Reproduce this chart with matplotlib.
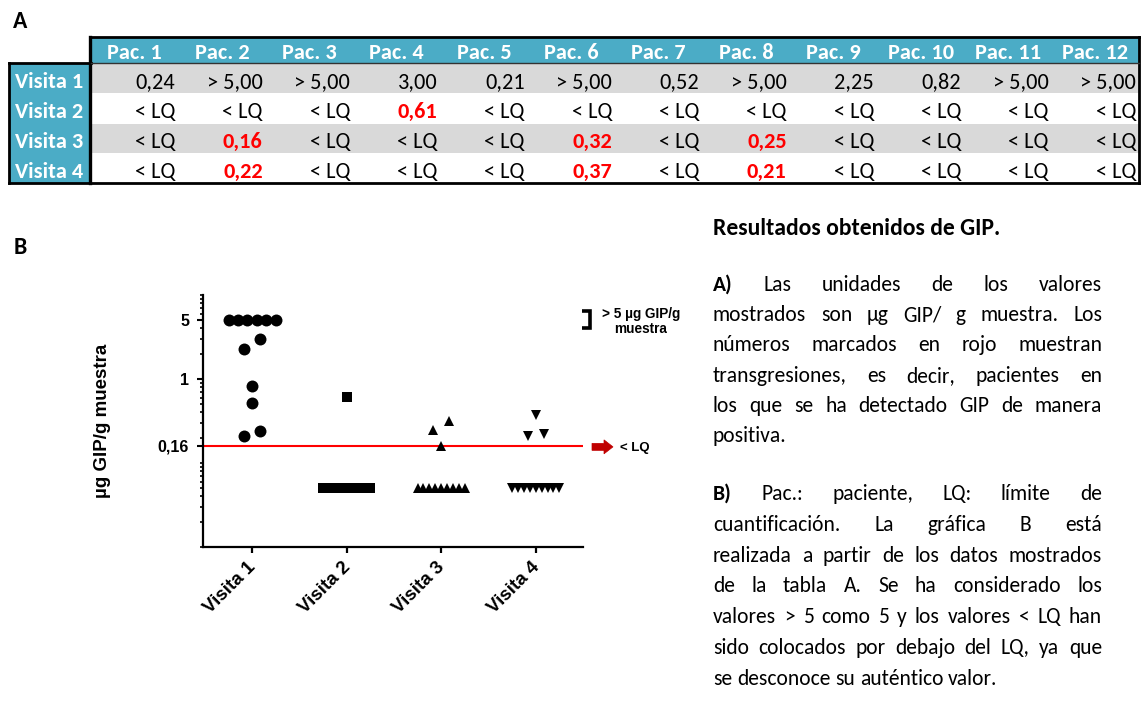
import numpy as np
import matplotlib
matplotlib.use("Agg")
import matplotlib.pyplot as plt
import matplotlib.transforms as mtransforms
from matplotlib import font_manager
from matplotlib.patches import Rectangle, FancyArrow
from matplotlib.ticker import FixedLocator, LogLocator, NullFormatter, FixedFormatter

# ---------------- data ----------------
patients = ["Pac. %d" % i for i in range(1, 13)]
visits = ["Visita 1", "Visita 2", "Visita 3", "Visita 4"]
visita1 = ["0,24", "> 5,00", "> 5,00", "3,00", "0,21", "> 5,00",
           "0,52", "> 5,00", "2,25", "0,82", "> 5,00", "> 5,00"]
visita2 = ["< LQ", "< LQ", "< LQ", "0,61", "< LQ", "< LQ",
           "< LQ", "< LQ", "< LQ", "< LQ", "< LQ", "< LQ"]
visita3 = ["< LQ", "0,16", "< LQ", "< LQ", "< LQ", "0,32",
           "< LQ", "0,25", "< LQ", "< LQ", "< LQ", "< LQ"]
visita4 = ["< LQ", "0,22", "< LQ", "< LQ", "< LQ", "0,37",
           "< LQ", "0,21", "< LQ", "< LQ", "< LQ", "< LQ"]
table_rows = [visita1, visita2, visita3, visita4]

LQ = 0.16            # limit of quantification
CAP = 5.0            # values "> 5" are plotted as 5
BELOW_LQ = 0.05      # where "< LQ" values are placed
ytick_vals = [5, 1, 0.16]
ytick_labels = ["5", "1", "0,16"]
markers = ["o", "s", "^", "v"]
marker_sizes = [8.6, 7.6, 7.4, 7.4]

title_text = "Resultados obtenidos de GIP."
para_a = ["A) Las unidades de los valores",
          "mostrados son µg GIP/ g muestra. Los",
          "números marcados en rojo muestran",
          "transgresiones, es decir, pacientes en",
          "los que se ha detectado GIP de manera",
          "positiva."]
para_b = ["B) Pac.: paciente, LQ: límite de",
          "cuantificación. La gráfica B está",
          "realizada a partir de los datos mostrados",
          "de la tabla A.  Se ha considerado los",
          "valores > 5  como 5 y los valores < LQ han",
          "sido colocados por debajo del LQ, ya que",
          "se desconoce su auténtico valor."]


def to_value(s):
    s = s.strip()
    if s.startswith(">"):
        return CAP
    if s.startswith("<"):
        return BELOW_LQ
    return float(s.replace(",", "."))


def swarm_offsets(vals, step=0.1, half_max=0.25, pair=0.085, close=0.13):
    vals = np.asarray(vals, dtype=float)
    off = np.zeros(len(vals))
    singles = []
    for u in np.unique(vals):
        idx = np.where(vals == u)[0]
        n = len(idx)
        if n > 1:
            half = min(half_max, (n - 1) * step / 2)
            off[idx] = np.linspace(-half, half, n)
        else:
            singles.append(idx[0])
    singles.sort(key=lambda i: vals[i])
    k = 0
    while k < len(singles) - 1:
        a, b = singles[k], singles[k + 1]
        if abs(np.log10(vals[a]) - np.log10(vals[b])) < close:
            off[a], off[b] = -pair, pair
            k += 2
        else:
            k += 1
    return off


def available(name):
    try:
        font_manager.findfont(font_manager.FontProperties(family=name),
                              fallback_to_default=False)
        return True
    except Exception:
        return False


if available("Carlito"):
    TF = ["Carlito", "DejaVu Sans"]
    SZ_LAB, SZ_VAL, SZ_HEAD, SZ_PANEL, SZ_PARA = 16, 16, 16, 17, 15.5
else:
    TF = ["Lato", "DejaVu Sans"]
    SZ_LAB, SZ_VAL, SZ_HEAD, SZ_PANEL, SZ_PARA = 15, 13.8, 14.5, 16, 15.0
CF = ["Liberation Sans", "DejaVu Sans"]

# ---------------- figure ----------------
W, H = 1145, 706
fig = plt.figure(figsize=(W / 100, H / 100), dpi=100)
bg = fig.add_axes([0, 0, 1, 1])
bg.set_xlim(0, W)
bg.set_ylim(H, 0)
bg.axis("off")

TEAL = "#4BACC6"
GREY = "#D9D9D9"

# ---- panel labels ----
bg.text(20, 22, "A", fontsize=SZ_PANEL, fontweight="bold", family=TF, ha="center", va="center")
bg.text(20, 248, "B", fontsize=SZ_PANEL, fontweight="bold", family=TF, ha="center", va="center")

# ---- table ----
x0, x_lab0, x_lab1 = 91, 9, 89
x1 = 1139
col_w = (x1 - x0) / len(patients)
y_head0, y_head1 = 37, 63
row_h = 30
bg.add_patch(Rectangle((x0, y_head0), x1 - x0, y_head1 - y_head0, fc=TEAL, ec="none"))
for i, row in enumerate(table_rows):
    ytop = y_head1 + i * row_h
    fc = GREY if i % 2 == 0 else "white"
    bg.add_patch(Rectangle((x0, ytop + 1), x1 - x0, row_h - 1, fc=fc, ec="none"))
    bg.add_patch(Rectangle((x_lab0, ytop), x_lab1 - x_lab0, row_h, fc=TEAL, ec="none"))
    base = ytop + 25
    bg.text((x_lab0 + x_lab1) / 2, base, visits[i], fontsize=SZ_LAB, fontweight="bold",
            color="white", family=TF, ha="center", va="baseline")
    for j, s in enumerate(row):
        red = (i > 0) and not s.strip().startswith("<")
        bg.text(x0 + (j + 1) * col_w - 3, base, s, fontsize=SZ_VAL,
                fontweight="bold" if red else "normal",
                color="#FF0000" if red else "black", family=TF, ha="right", va="baseline")
for j, p in enumerate(patients):
    bg.text(x0 + (j + 0.5) * col_w, y_head1 - 4, p, fontsize=SZ_HEAD, fontweight="bold",
            color="white", family=TF, ha="center", va="baseline")
y_bot = y_head1 + 4 * row_h
lw_b = 2.0
bg.plot([x0 - 1, x1], [y_head0, y_head0], color="black", lw=lw_b, solid_capstyle="projecting")
bg.plot([x1, x1], [y_head0, y_bot], color="black", lw=lw_b, solid_capstyle="projecting")
bg.plot([x_lab0, x1], [y_bot, y_bot], color="black", lw=lw_b, solid_capstyle="projecting")
bg.plot([x_lab0, x_lab0], [y_head1, y_bot], color="black", lw=lw_b, solid_capstyle="projecting")
bg.plot([x_lab0, x0], [y_head1, y_head1], color="black", lw=lw_b, solid_capstyle="projecting")
bg.plot([x0 - 1, x0 - 1], [y_head0, y_bot], color="black", lw=lw_b + 0.4, solid_capstyle="projecting")
bg.plot([x0, x1], [y_head1, y_head1], color="#333333", lw=1.0)

# ---- scatter chart ----
ax = fig.add_axes([203 / W, 1 - 547 / H, 380 / W, 252 / H])
ax.set_facecolor("none")
ax.set_yscale("log")
ax.set_ylim(0.01, 10)
ax.set_xlim(0.48, 4.5)
for i, row in enumerate(table_rows):
    vals = np.array([to_value(s) for s in row])
    off = swarm_offsets(vals)
    ax.plot(i + 1 + off, vals, ls="none", marker=markers[i], ms=marker_sizes[i],
            color="black", mec="black", mew=0, clip_on=False, zorder=3)
ax.axhline(LQ, color="#FF0000", lw=1.5, zorder=2)

for sp in ["top", "right"]:
    ax.spines[sp].set_visible(False)
for sp in ["left", "bottom"]:
    ax.spines[sp].set_linewidth(1.6)
ax.yaxis.set_major_locator(FixedLocator(ytick_vals))
ax.yaxis.set_major_formatter(FixedFormatter(ytick_labels))
ax.yaxis.set_minor_locator(LogLocator(base=10, subs=np.arange(1, 10), numticks=20))
ax.yaxis.set_minor_formatter(NullFormatter())
ax.tick_params(axis="y", which="major", length=4, width=1.5, pad=6)
ax.tick_params(axis="y", which="minor", length=2.4, width=1.2)
ax.set_xticks(range(1, len(visits) + 1))
ax.set_xticklabels(visits, rotation=45, ha="right", rotation_mode="anchor")
ax.tick_params(axis="x", length=4.5, width=1.6, pad=4)
for lab in ax.get_yticklabels():
    lab.set_fontweight("bold"); lab.set_fontsize(11.5); lab.set_family(CF)
shift = mtransforms.ScaledTranslation(-5 / 100, 0, fig.dpi_scale_trans)
for lab in ax.get_xticklabels():
    lab.set_fontweight("bold"); lab.set_fontsize(13.5); lab.set_family(CF)
    lab.set_transform(lab.get_transform() + shift)
ax.set_ylabel("µg GIP/g muestra", fontsize=13.5, fontweight="bold", family=CF, labelpad=34)

# LQ arrow + label (positioned at the LQ level)
y_lq = H - ax.transData.transform((1, LQ))[1]
bg.add_patch(FancyArrow(592, y_lq + 1, 12, 0, width=7, head_width=14, head_length=9,
                        length_includes_head=False, fc="#C00000", ec="#C00000", lw=0.5))
bg.text(620, y_lq + 2, "< LQ", fontsize=9.5, fontweight="bold", family=CF, ha="left", va="center")

# legend bracket for > 5
bg.plot([582, 590, 590, 582], [311, 311, 328, 328], color="black", lw=2.6,
        solid_joinstyle="miter", solid_capstyle="butt")
bg.text(641, 314, "> 5 µg GIP/g", fontsize=9.8, fontweight="bold", family=CF, ha="center", va="center")
bg.text(641, 329, "muestra", fontsize=9.8, fontweight="bold", family=CF, ha="center", va="center")

# ---- right-hand justified text ----
renderer = fig.canvas.get_renderer()
LEFT, RIGHT = 713, 1102


def text_width(s, size, weight):
    t = bg.text(0, 0, s, fontsize=size, fontweight=weight, family=TF)
    w = t.get_window_extent(renderer).width
    t.remove()
    return w


size = SZ_PARA
all_lines = para_a[:-1] + para_b[:-1]


def min_width(line, sz):
    words = line.split()
    sp = text_width("a a", sz, "normal") - text_width("aa", sz, "normal")
    return sum(text_width(w, sz, "normal") for w in words) + 0.3 * sp * (len(words) - 1)


while max(min_width(l, size) for l in all_lines) > RIGHT - LEFT:
    size -= 0.1

# title scaled to its width in the original (about 289 px)
tsize = size
while text_width(title_text, tsize, "bold") < 287:
    tsize += 0.1
while text_width(title_text, tsize, "bold") > 291:
    tsize -= 0.1


def put_line(line, y, justify, bold_first):
    words = line.split()
    weights = ["bold" if (bold_first and k == 0) else "normal" for k in range(len(words))]
    widths = [text_width(w, size, wt) for w, wt in zip(words, weights)]
    if justify and len(words) > 1:
        gap = (RIGHT - LEFT - sum(widths)) / (len(words) - 1)
    else:
        gap = text_width("a a", size, "normal") - text_width("aa", size, "normal")
    x = LEFT
    for w, wt, ww in zip(words, weights, widths):
        bg.text(x, y, w, fontsize=size, fontweight=wt, family=TF, ha="left", va="baseline")
        x += ww + gap


bg.text(LEFT, 235, title_text, fontsize=tsize, fontweight="bold", family=TF, ha="left", va="baseline")
for k, line in enumerate(para_a):
    put_line(line, 291 + 30.2 * k, k < len(para_a) - 1, k == 0)
for k, line in enumerate(para_b):
    put_line(line, 500 + 30.8 * k, k < len(para_b) - 1, k == 0)

fig.savefig("out.png", dpi=100)
